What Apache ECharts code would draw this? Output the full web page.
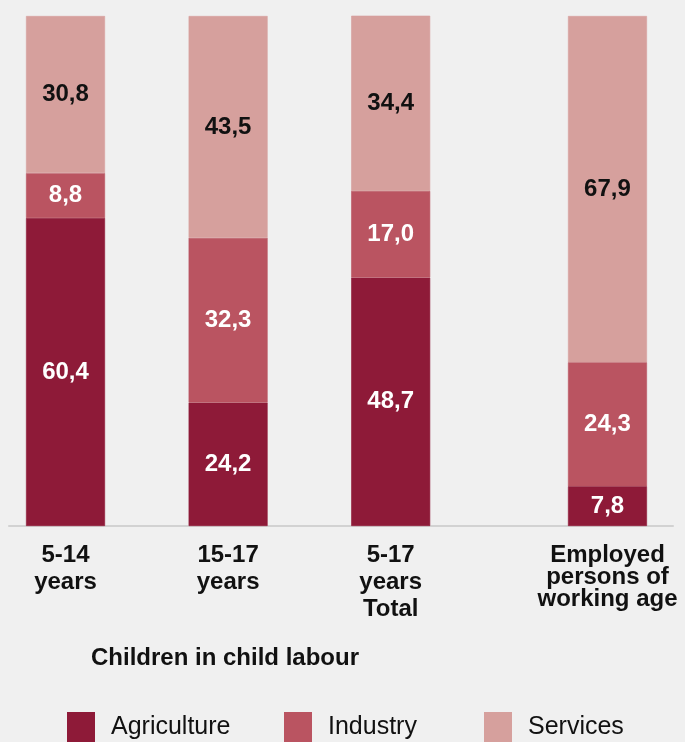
<!DOCTYPE html>
<html>
<head>
<meta charset="utf-8">
<script src="https://cdn.jsdelivr.net/npm/echarts@6/dist/echarts.min.js"></script>
<style>
  html, body { margin: 0; padding: 0; background: #f0f0f0; }
  #chart { width: 685px; height: 742px; }
</style>
</head>
<body>
<div id="chart"></div>
<script>
// Sector shares of employment (%)
const categories = ['5-14\nyears', '15-17\nyears', '5-17\nyears\nTotal', 'Employed\npersons of\nworking age'];
const agriculture = [60.4, 24.2, 48.7, 7.8];
const industry = [8.8, 32.3, 17.0, 24.3];
const services = [30.8, 43.5, 34.4, 67.9];
const groupTitle = 'Children in child labour';
const seriesNames = ['Agriculture', 'Industry', 'Services'];

// Horizontal slots for the bars (last bar is set apart from the child groups)
const slotPos = [0, 3, 6, 10];

const colors = ['#8e1a38', '#ba5461', '#d6a09d'];
const FONT = '"Liberation Sans", Arial, Helvetica, sans-serif';

const fmt = v => v.toFixed(1).replace('.', ',');

function makeSeries(name, values, color, labelColor) {
  return {
    name: name,
    type: 'bar',
    stack: 'total',
    barWidth: 79,
    // value first so that stacking runs on the share, slot second for x
    encode: { x: 1, y: 0 },
    // thin same-colour border hides the anti-aliased seam between segments
    itemStyle: { color: color, borderColor: color, borderWidth: 0.6 },
    label: {
      show: true,
      position: 'inside',
      color: labelColor,
      fontFamily: FONT,
      fontWeight: 'bold',
      fontSize: 24,
      formatter: p => fmt(p.value[0])
    },
    emphasis: { disabled: true },
    data: values.map((v, i) => [v, slotPos[i]])
  };
}

function legendAt(name, left) {
  return {
    data: [name],
    left: left,
    top: 712,
    icon: 'rect',
    itemWidth: 28,
    itemHeight: 30,
    padding: 0,
    selectedMode: false,
    itemStyle: { borderWidth: 0 },
    textStyle: {
      fontFamily: FONT,
      fontSize: 25,
      color: '#111',
      padding: [0, 0, 0, 11]
    }
  };
}

const bold = { fontFamily: FONT, fontWeight: 'bold', fontSize: 24, color: '#111' };

const chart = echarts.init(document.getElementById('chart'), null, { renderer: 'canvas' });

chart.setOption({
  backgroundColor: '#f0f0f0',
  animation: false,
  color: colors,
  title: {
    text: groupTitle,
    left: 225,
    top: 646,
    padding: 0,
    textAlign: 'center',
    textStyle: bold
  },
  legend: [
    legendAt(seriesNames[0], 67),
    legendAt(seriesNames[1], 284),
    legendAt(seriesNames[2], 484)
  ],
  grid: { left: 9, right: 12, top: 16, bottom: 216, containLabel: false },
  xAxis: {
    type: 'value',
    min: -1.043,
    max: 11.209,
    splitLine: { show: false },
    axisTick: { show: false },
    axisLine: { show: true, onZero: false, lineStyle: { color: '#d2d2d2', width: 2 } },
    axisLabel: {
      customValues: slotPos,
      margin: 16,
      formatter: v => {
        const i = slotPos.indexOf(v);
        if (i < 0) return '';
        const lines = categories[i].split('\n');
        if (i === slotPos.length - 1) {
          // tighter line spacing for the working-age label
          return lines.map((s, k) => '{' + (k === 1 ? 'n' : 'c') + '|' + s + '}').join('\n');
        }
        return lines.map(s => '{c|' + s + '}').join('\n');
      },
      rich: {
        c: Object.assign({ lineHeight: 27 }, bold),
        n: Object.assign({ lineHeight: 16.6 }, bold)
      }
    }
  },
  yAxis: {
    type: 'value',
    min: 0,
    max: 100,
    show: false
  },
  series: [
    makeSeries(seriesNames[0], agriculture, colors[0], '#ffffff'),
    makeSeries(seriesNames[1], industry, colors[1], '#ffffff'),
    makeSeries(seriesNames[2], services, colors[2], '#111111')
  ]
});
</script>
</body>
</html>
